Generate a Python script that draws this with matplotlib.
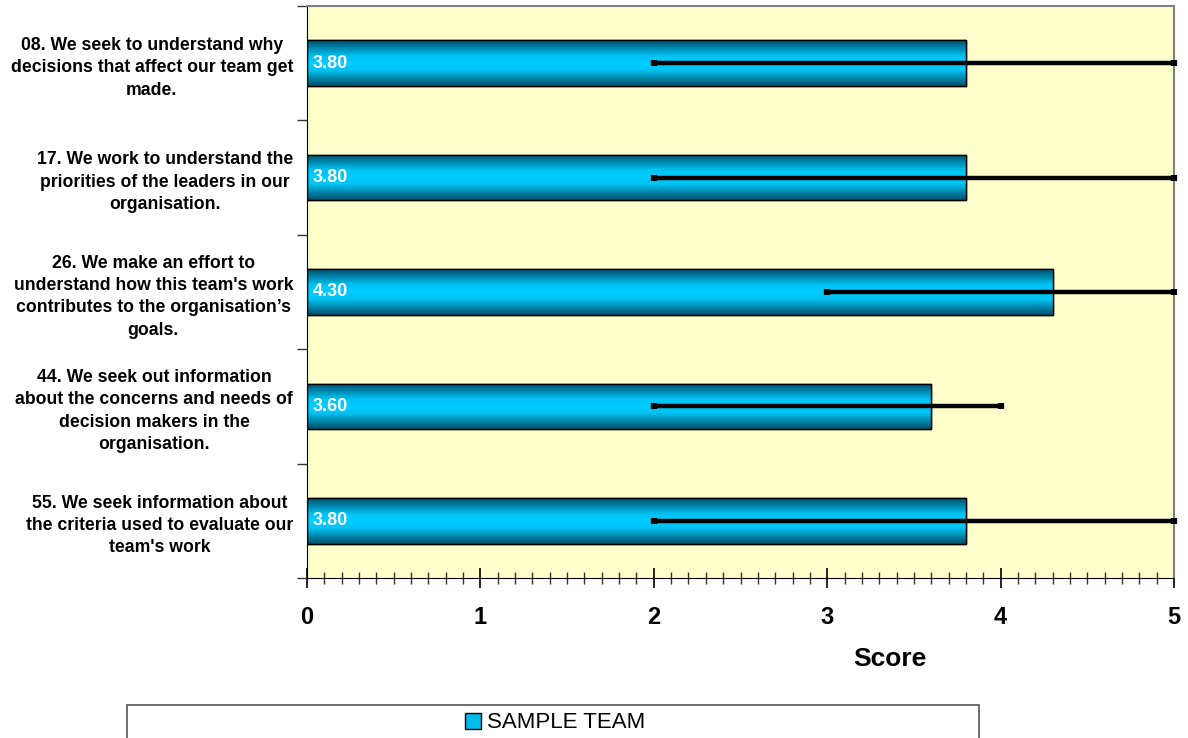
import numpy as np
import matplotlib.pyplot as plt
from matplotlib.patches import Rectangle
from matplotlib.colors import LinearSegmentedColormap
from matplotlib.ticker import MultipleLocator, FixedLocator

plt.rcParams['font.family'] = ['Liberation Sans', 'DejaVu Sans']

questions = [
    "08. We seek to understand why\ndecisions that affect our team get\nmade.",
    "17. We work to understand the\npriorities of the leaders in our\norganisation.",
    "26. We make an effort to\nunderstand how this team's work\ncontributes to the organisation\u2019s\ngoals.",
    "44. We seek out information\nabout the concerns and needs of\ndecision makers in the\norganisation.",
    "55. We seek information about\nthe criteria used to evaluate our\nteam's work",
]
scores = [3.80, 3.80, 4.30, 3.60, 3.80]
low = [2, 2, 3, 2, 2]
high = [5, 5, 5, 4, 5]
series_name = "SAMPLE TEAM"

fig = plt.figure(figsize=(11.88, 7.38), dpi=100)
ax = fig.add_axes([307 / 1188, 1 - 578 / 738, 867 / 1188, 572 / 738])
ax.set_facecolor('#FFFFCC')

y = np.arange(len(questions))
bar_h = 0.4

# cyan bars with a dark-edged vertical shading
shade = LinearSegmentedColormap.from_list(
    'shade', [(0.0, '#00506C'), (0.35, '#00C4F4'), (0.5, '#00CCFF'),
              (0.65, '#00C4F4'), (1.0, '#00506C')])
grad = np.linspace(0, 1, 64).reshape(-1, 1)
bars = ax.barh(y, scores, height=bar_h, color='#00CCFF', edgecolor='black',
               linewidth=1.0, label=series_name, zorder=2)
for b in bars:
    x0, y0 = b.get_x(), b.get_y()
    w, h = b.get_width(), b.get_height()
    im = ax.imshow(grad, cmap=shade, aspect='auto', zorder=2.1,
                   extent=[x0, x0 + w, y0 + h, y0], interpolation='bicubic')
    im.set_clip_path(b)
    ax.add_patch(Rectangle((x0, y0), w, h, fill=False, edgecolor='black',
                           linewidth=1.0, zorder=2.2))

for yi, s in zip(y, scores):
    ax.text(0.035, yi, f"{s:.2f}", color='white', fontsize=13,
            fontweight='bold', va='center', ha='left', zorder=3)

# min-max range lines
scores_a = np.array(scores)
ax.errorbar(scores_a, y,
            xerr=[scores_a - np.array(low), np.array(high) - scores_a],
            fmt='none', ecolor='black', elinewidth=3.2, capsize=2.5,
            capthick=4.5, zorder=4, clip_on=False)

ax.set_xlim(0, 5)
ax.set_ylim(len(questions) - 0.5, -0.5)

ax.set_yticks(y)
ax.set_yticklabels(questions, fontsize=12.7, fontweight='bold',
                   multialignment='center', linespacing=1.42)
ax.yaxis.set_minor_locator(FixedLocator(np.arange(-0.5, len(questions), 1)))
ax.tick_params(axis='y', which='major', length=0, pad=10)
ax.tick_params(axis='y', which='minor', length=7, width=1, color='#333333')

ax.xaxis.set_major_locator(MultipleLocator(1))
ax.xaxis.set_minor_locator(MultipleLocator(0.1))
ax.tick_params(axis='x', which='major', direction='inout', length=14,
               width=1.2, labelsize=17, pad=13)
ax.tick_params(axis='x', which='minor', direction='inout', length=8,
               width=1, color='#333333')
for lab in ax.get_xticklabels():
    lab.set_fontweight('bold')

ax.set_xlabel("Score", fontsize=19, fontweight='bold')
ax.xaxis.set_label_coords(0.672, -0.12)

for side in ('top', 'right'):
    ax.spines[side].set_color('#808080')
    ax.spines[side].set_linewidth(1.5)
ax.spines['left'].set_color('black')
ax.spines['bottom'].set_color('black')

# legend box along the bottom edge
fig.add_artist(Rectangle((127 / 1188, -0.02), 852 / 1188, 0.02 + 33 / 738,
                         transform=fig.transFigure, fill=False,
                         edgecolor='#555555', linewidth=1.2))
handle = Rectangle((0, 0), 1, 1, facecolor='#00BDEE', edgecolor='black')
fig.legend([handle], [series_name], loc='center', frameon=False,
           bbox_to_anchor=(555 / 1188, 1 - 723 / 738), fontsize=16,
           handlelength=0.75, handleheight=0.75, handletextpad=0.25,
           borderpad=0)

fig.savefig('out.png', dpi=100)
